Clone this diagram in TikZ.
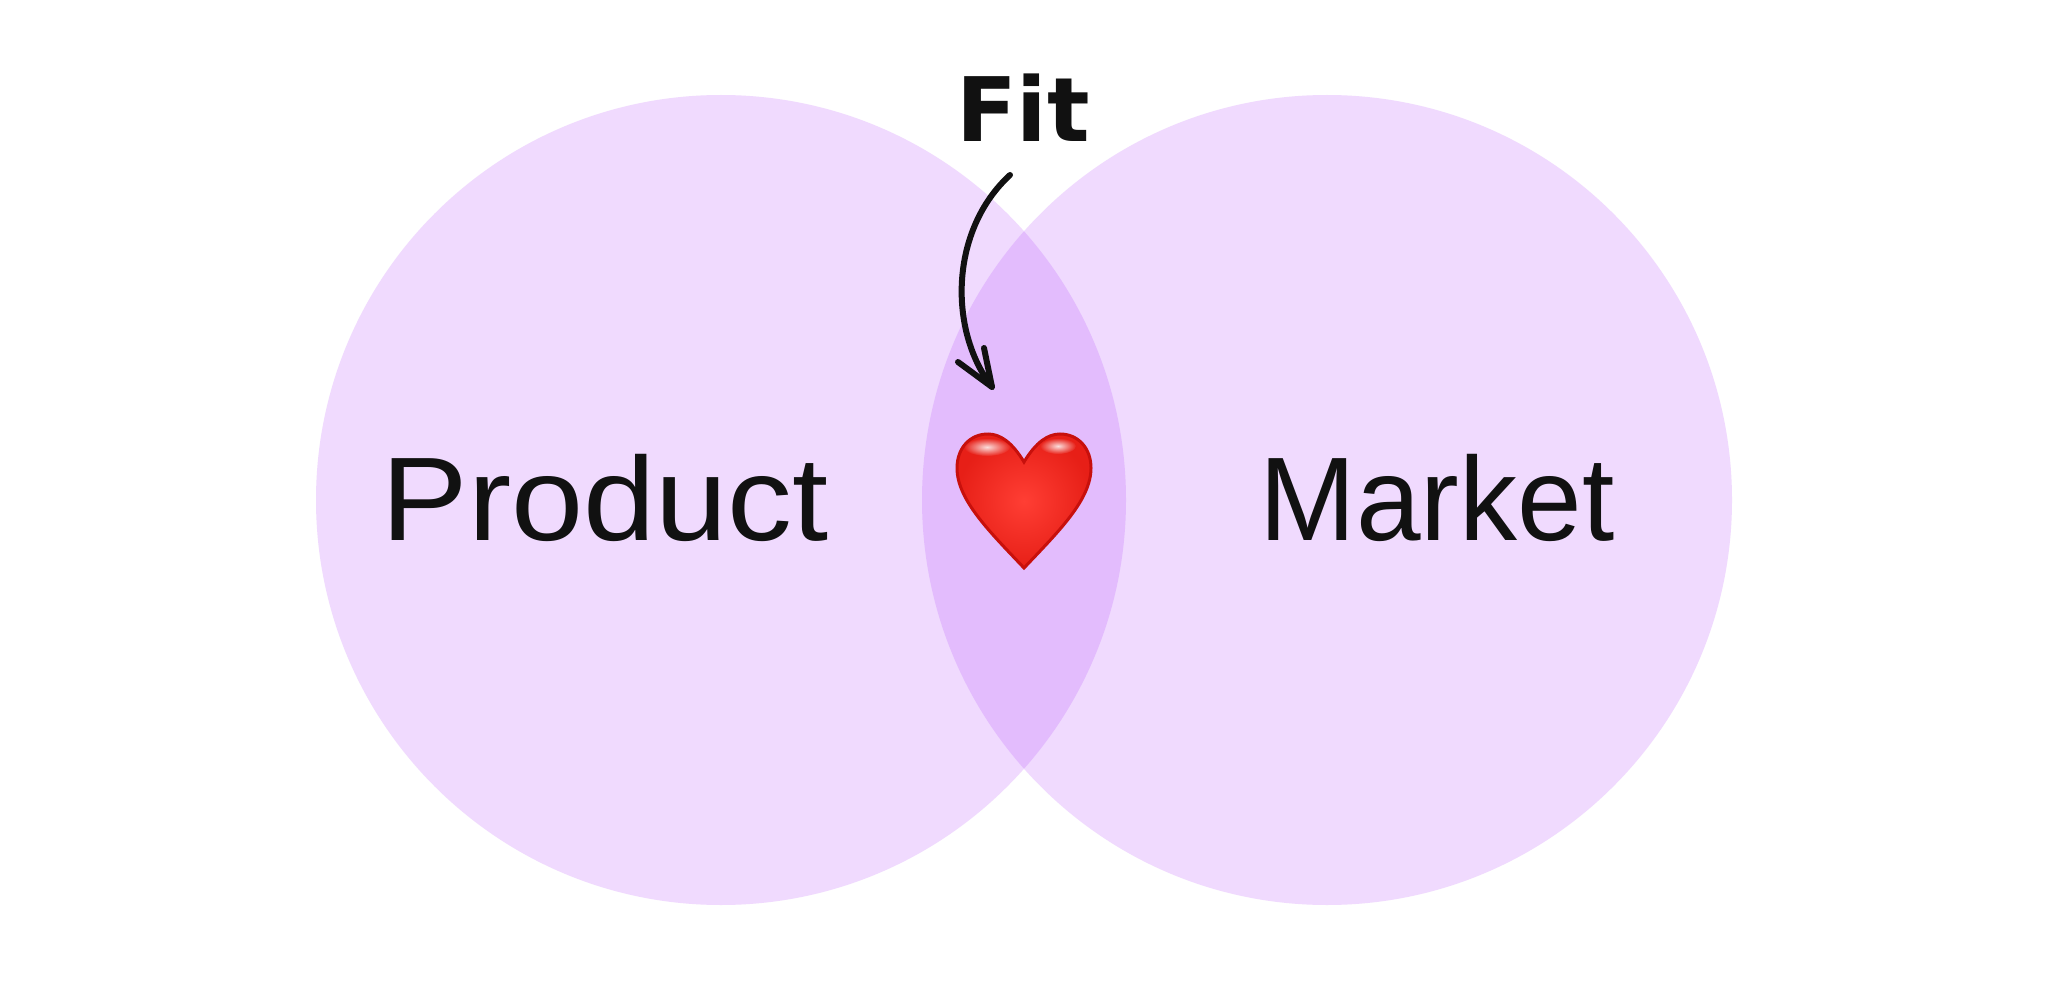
\documentclass[tikz,border=0pt]{standalone}
\usepackage{fontspec}
\setmainfont{Liberation Sans}
\newfontfamily\fitfont{DejaVu Sans}
\usetikzlibrary{fadings}
\definecolor{lav}{HTML}{F0DAFE}
\definecolor{lavdeep}{HTML}{E3BCFD}
\definecolor{ink}{HTML}{111111}
\definecolor{heartred}{HTML}{FF3E34}
\definecolor{heartmid}{HTML}{F4261C}
\definecolor{heartdark}{HTML}{C8100C}
\tikzfading[name=glowfade, inner color=transparent!0, outer color=transparent!100]
\begin{document}
\begin{tikzpicture}[x=1pt,y=-1pt,
  bubble/.style={circle,fill=lav,draw=none,minimum size=810pt,inner sep=0pt},
  biglabel/.style={anchor=base,inner sep=0pt,text=ink,font=\fontsize{119pt}{119pt}\selectfont},
  fitlabel/.style={anchor=base,inner sep=0pt,text=ink,font=\fitfont\bfseries\fontsize{89pt}{89pt}\selectfont},
  arrowline/.style={draw=ink,line width=6pt,line cap=round,line join=round},
  gloss/.style={fill=white,path fading=glowfade,fill opacity=0.85}]
\useasboundingbox (0,0) rectangle (2048,1000);
\fill[white] (0,0) rectangle (2048,1000);
% circles
\node[bubble] (prod) at (721,500) {};
\node[bubble] (mark) at (1327,500) {};
\begin{scope}
  \clip (721,500) circle[radius=405];
  \fill[lavdeep] (1327,500) circle[radius=405];
\end{scope}
% labels
\node[biglabel] (ptext) at (605,540) {\scalebox{1.09}[1]{Product}};
\node[biglabel] (mtext) at (1437,540) {\scalebox{0.975}[1]{Market}};
\node[fitlabel] (fit) at (1023,142) {Fit};
% heart
\coordinate (heart) at (1024,500);
\path[draw=heartdark,line width=3pt,
      shading=radial,inner color=heartred,outer color=heartmid!70!heartdark]
  (1024,462) .. controls (1012,442) and (1000,434) .. (988,434)
  .. controls (970,434) and (957,448) .. (957,468)
  .. controls (957,500) and (990,532) .. (1024,568)
  .. controls (1058,532) and (1091,500) .. (1091,468)
  .. controls (1091,448) and (1078,434) .. (1060,434)
  .. controls (1048,434) and (1036,442) .. (1024,462) -- cycle;
\fill[gloss] (987,447) ellipse[x radius=23,y radius=9];
\fill[gloss] (1058,446) ellipse[x radius=18,y radius=8];
% arrow
\coordinate (arrS) at (1010,175);
\coordinate (arrE) at (992,387);
\coordinate (wingL) at (958,362);
\coordinate (wingR) at (984,348);
\path[arrowline] (arrS) .. controls (950,230) and (948,330) .. (arrE);
\path[arrowline] (wingL) -- (arrE) -- (wingR);
\end{tikzpicture}
\end{document}
